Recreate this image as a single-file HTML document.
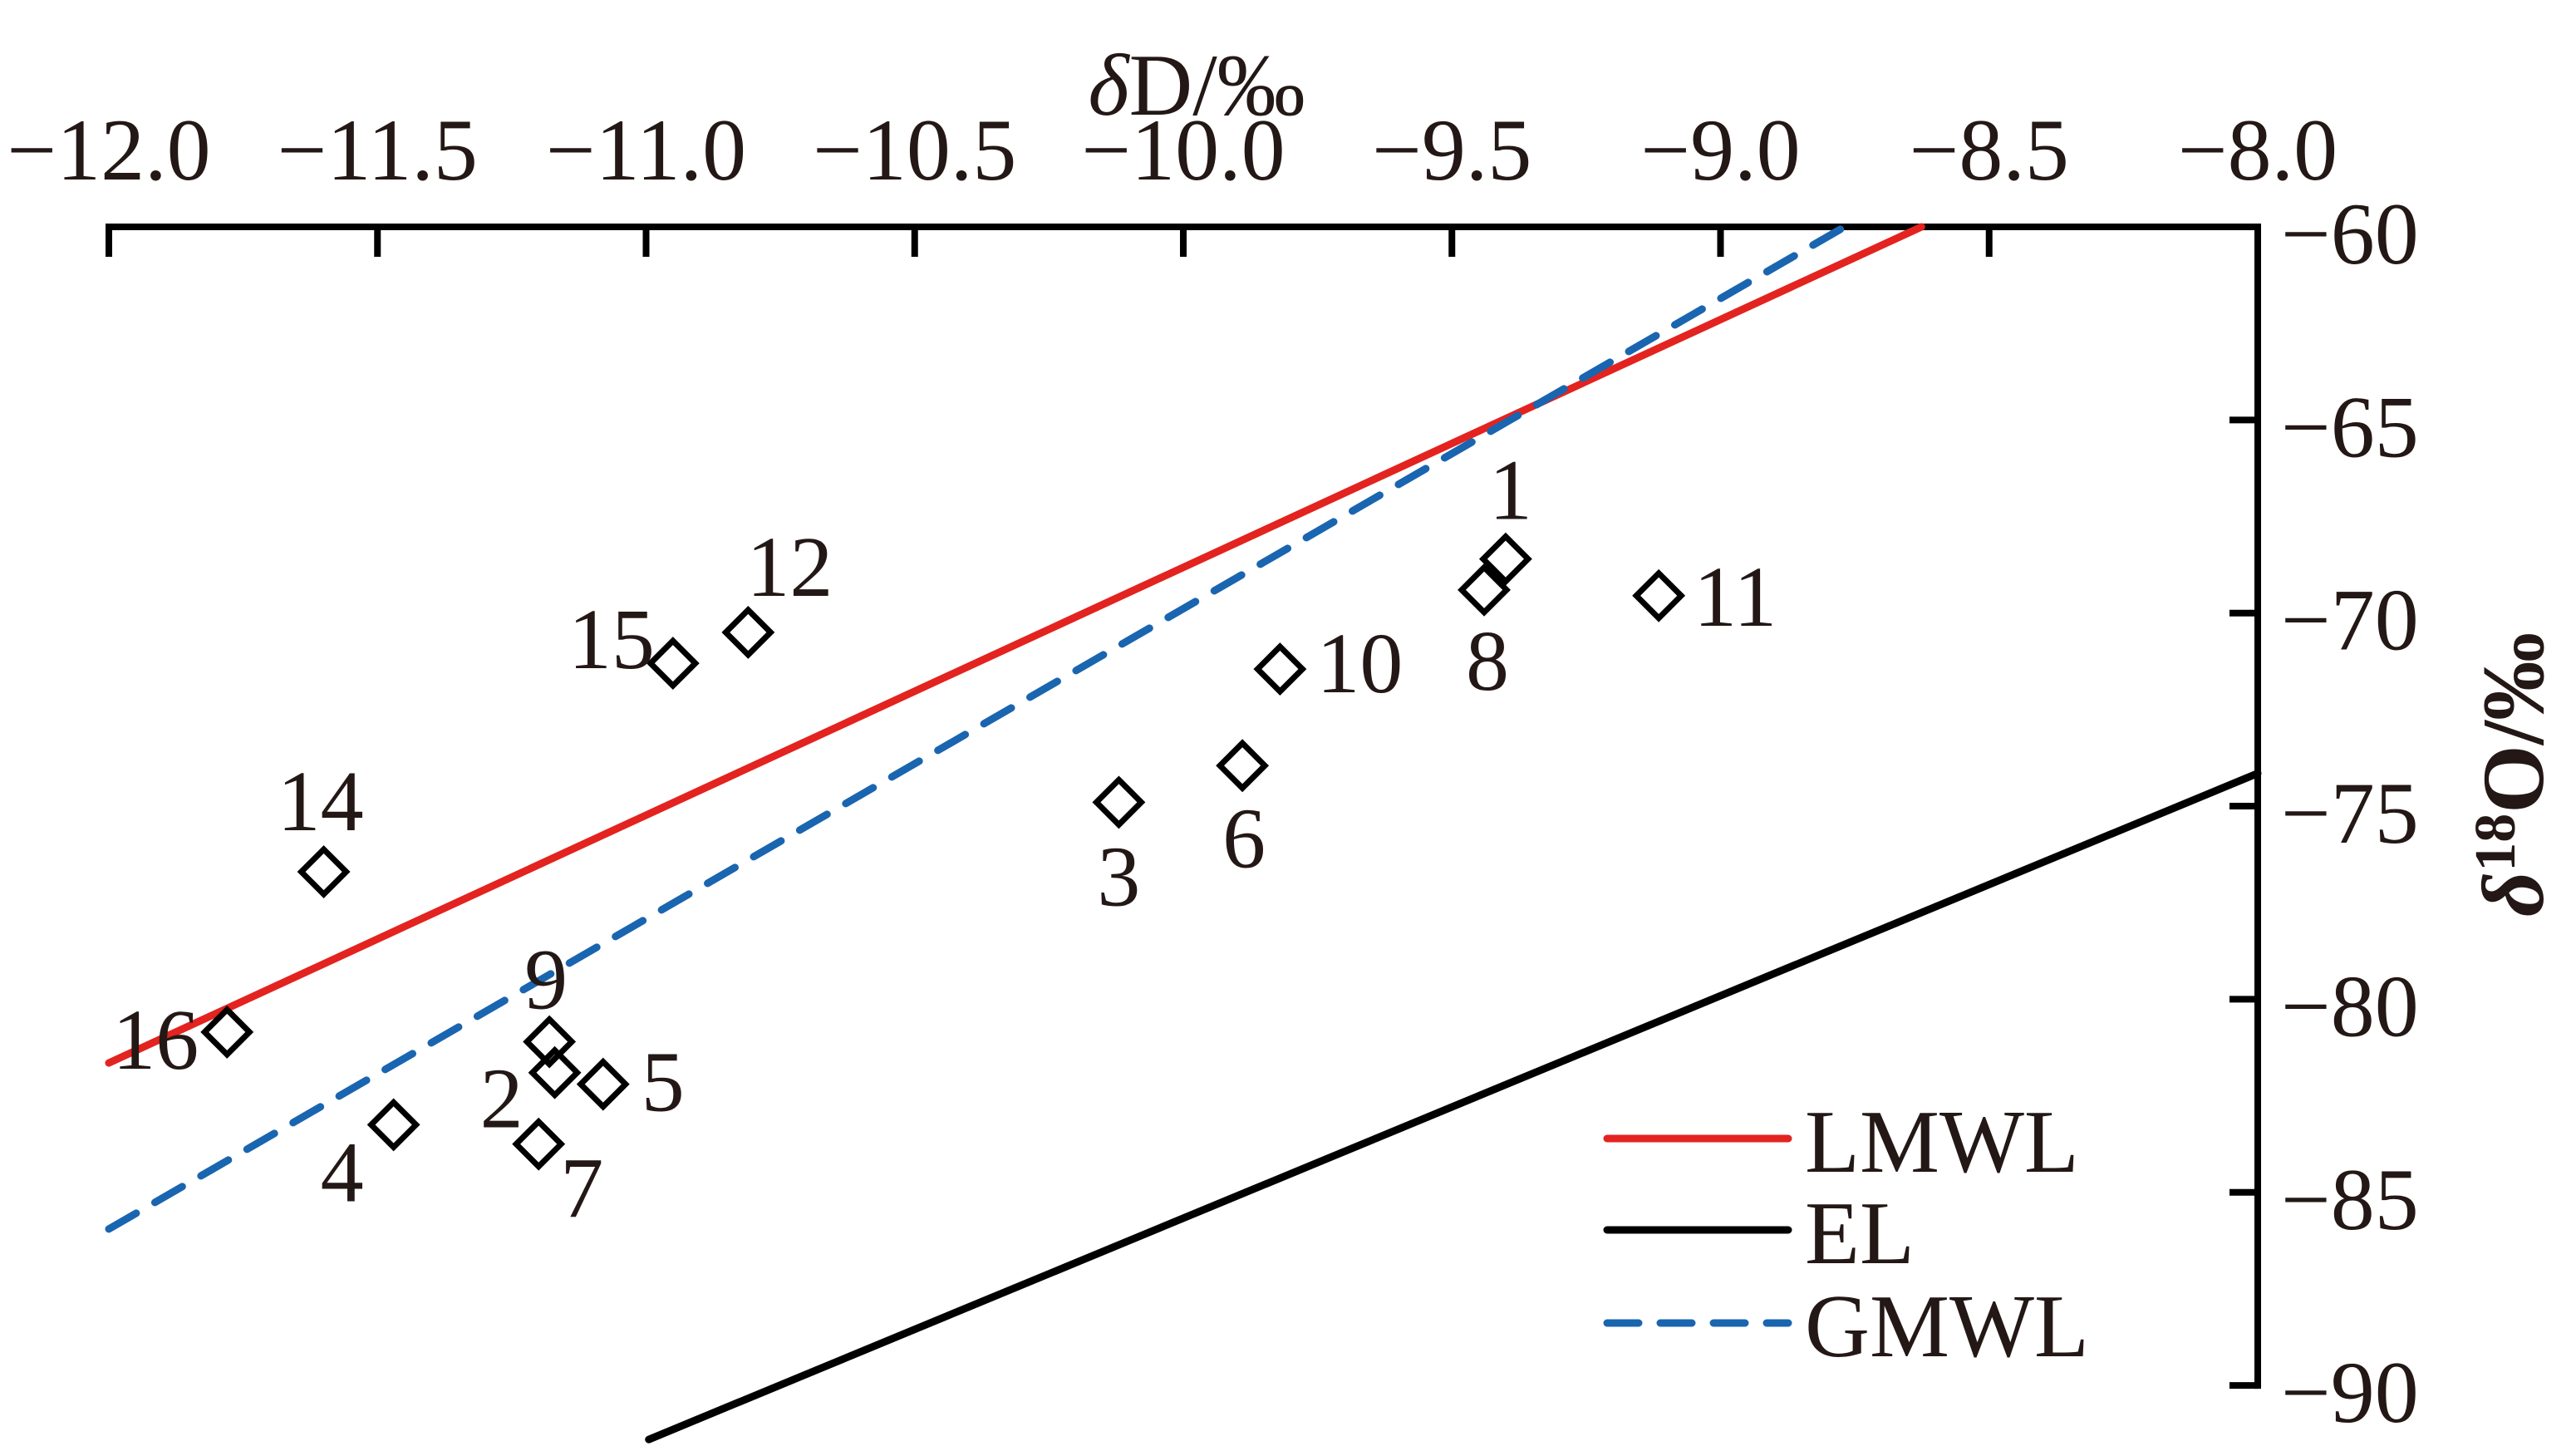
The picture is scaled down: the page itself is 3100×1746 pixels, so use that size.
<!DOCTYPE html>
<html><head><meta charset="utf-8"><style>
html,body{margin:0;padding:0;background:#fff;}
svg{display:block;font-family:"Liberation Serif",serif;}
</style></head><body>
<svg id="chart" width="3100" height="1746" viewBox="0 0 3100 1746" xmlns="http://www.w3.org/2000/svg">
<g id="axes"></g>
<g id="lines"></g>
<g id="points"></g>
<g id="legend"></g>
</svg>
<script>
const xTicks = [-12.0, -11.5, -11.0, -10.5, -10.0, -9.5, -9.0, -8.5, -8.0];
const xTickLabels = ["−12.0", "−11.5", "−11.0", "−10.5", "−10.0", "−9.5", "−9.0", "−8.5", "−8.0"];
const yTicks = [-60, -65, -70, -75, -80, -85, -90];
const yTickLabels = ["−60", "−65", "−70", "−75", "−80", "−85", "−90"];
const pointIds = ["1", "8", "11", "10", "12", "15", "6", "3", "14", "16", "9", "2", "5", "4", "7"];
const pointX = [-9.40, -9.44, -9.115, -9.82, -10.81, -10.95, -9.89, -10.12, -11.60, -11.78, -11.18, -11.17, -11.08, -11.47, -11.20];
const pointY = [-68.6, -69.4, -69.55, -71.45, -70.5, -71.3, -73.95, -74.9, -76.7, -80.85, -81.1, -81.9, -82.2, -83.25, -83.75];
const labelDX = [6, 4, 92, 96, 50, -74, 2, 0, -4, -86, -4, -64, 72, -62, 52];
const labelDY = [-84, 84, 0, -8, -80, -30, 86, 88, -86, 8, -76, 30, -4, 56, 52];
const lineNames = ["LMWL", "EL", "GMWL"];
const lineX1 = [-12, -10.995, -12];
const lineY1 = [-81.65, -91.4, -85.95];
const lineX2 = [-8.626, -8, -8.743];
const lineY2 = [-60, -74.15, -59.79];

const NS = "http://www.w3.org/2000/svg";
const X0 = 131, XS = 646.5, Y0 = 273, YS = 46.47;
function sx(v){ return X0 + (v + 12) * XS; }
function sy(v){ return Y0 + (-60 - v) * YS; }
function mk(tag, attrs, parent){
  const e = document.createElementNS(NS, tag);
  for (const k in attrs) e.setAttribute(k, attrs[k]);
  parent.appendChild(e);
  return e;
}
const axes = document.getElementById("axes");
const xAxis = mk("line", {x1: sx(-12) - 4, y1: Y0, x2: sx(-8) + 4, y2: Y0, stroke: "#000", "stroke-width": 8}, axes);


const yAxis = mk("line", {x1: sx(-8), y1: Y0 - 4, x2: sx(-8), y2: sy(-90) + 4, stroke: "#000", "stroke-width": 8}, axes);


xTicks.forEach((v, i) => {
  if (i < xTicks.length - 1) {
    const t = mk("line", {x1: sx(v), y1: Y0, x2: sx(v), y2: Y0 + 36, stroke: "#000", "stroke-width": 8}, axes);
    
    
  }
  const l = mk("text", {x: sx(v), y: 216, "text-anchor": "middle", "font-size": 106, fill: "#231815"}, axes);
  l.textContent = xTickLabels[i];
  
  
});
yTicks.forEach((v, i) => {
  if (i > 0) {
    const t = mk("line", {x1: sx(-8) - 34, y1: sy(v), x2: sx(-8), y2: sy(v), stroke: "#000", "stroke-width": 8}, axes);
    
    
  }
  const l = mk("text", {x: 2745, y: sy(v) + 44, "font-size": 106, fill: "#231815"}, axes);
  l.textContent = yTickLabels[i];
  
  
});
const xt = mk("text", {x: 1440, y: 138, "text-anchor": "middle", "font-size": 106, fill: "#231815"}, axes);
xt.innerHTML = '<tspan font-style="italic">δ</tspan>D/‰';


const yt = mk("text", {x: 0, y: 0, "text-anchor": "middle", "font-size": 106, "font-weight": "bold", fill: "#231815", transform: "translate(3060,932) rotate(-90)"}, axes);
yt.innerHTML = '<tspan font-style="italic">δ</tspan><tspan font-size="70" dy="-34">18</tspan><tspan dy="34">O/‰</tspan>';



const colors = ["#e3231f", "#000000", "#1a65b0"];
const dashes = ["", "", "38 26"];
const lg = document.getElementById("lines");
lineNames.forEach((n, i) => {
  const a = {x1: sx(lineX1[i]), y1: sy(lineY1[i]), x2: sx(lineX2[i]), y2: sy(lineY2[i]), stroke: colors[i], "stroke-width": 9, "stroke-linecap": "round"};
  if (dashes[i]) a["stroke-dasharray"] = dashes[i];
  const l = mk("line", a, lg);
  
  
});

const pg = document.getElementById("points");
pointIds.forEach((id, i) => {
  const cx = sx(pointX[i]), cy = sy(pointY[i]), r = 27;
  const p = mk("polygon", {points: `${cx},${cy - r} ${cx + r},${cy} ${cx},${cy + r} ${cx - r},${cy}`, fill: "none", stroke: "#000", "stroke-width": 7}, pg);
  
  
  const t = mk("text", {x: cx + labelDX[i], y: cy + labelDY[i] + 36, "text-anchor": "middle", "font-size": 104, fill: "#231815"}, pg);
  t.textContent = id;
  
  
});

const leg = document.getElementById("legend");
const legY = [1370, 1480, 1592];
lineNames.forEach((n, i) => {
  const a = {x1: 1934, y1: legY[i], x2: 2152, y2: legY[i], stroke: colors[i], "stroke-width": 9, "stroke-linecap": "round"};
  if (dashes[i]) a["stroke-dasharray"] = dashes[i];
  const l = mk("line", a, leg);
  
  
  const t = mk("text", {x: 2172, y: legY[i] + 40, "font-size": 108, fill: "#231815"}, leg);
  t.textContent = n;
  
  
});
</script>
</body></html>
